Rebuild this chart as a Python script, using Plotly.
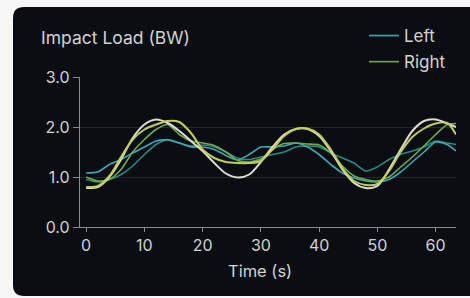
import plotly.graph_objects as go

# ---- data ----
time_s = [0, 2, 4, 6, 8, 10, 12, 14, 16, 18, 20, 22, 24, 26, 28, 30, 32, 34, 36, 38,
          40, 42, 44, 46, 48, 50, 52, 54, 56, 58, 60, 62, 63.5]

left_main = [1.08, 1.10, 1.25, 1.35, 1.48, 1.60, 1.72, 1.74, 1.68, 1.60, 1.60, 1.55, 1.43,
             1.34, 1.45, 1.60, 1.60, 1.62, 1.68, 1.60, 1.45, 1.25, 1.08, 0.98, 0.92, 0.90,
             0.95, 1.10, 1.30, 1.50, 1.70, 1.65, 1.52]

left_alt = [0.95, 0.90, 0.95, 1.05, 1.22, 1.45, 1.65, 1.75, 1.68, 1.62, 1.64, 1.60, 1.50,
            1.38, 1.35, 1.40, 1.45, 1.50, 1.60, 1.62, 1.60, 1.48, 1.38, 1.28, 1.12, 1.20,
            1.35, 1.45, 1.52, 1.60, 1.72, 1.68, 1.65]

right_main = [1.00, 0.92, 0.95, 1.15, 1.50, 1.75, 1.95, 2.05, 1.85, 1.72, 1.68, 1.63, 1.50,
              1.33, 1.30, 1.36, 1.55, 1.67, 1.68, 1.66, 1.64, 1.48, 1.22, 1.02, 0.95, 0.92,
              1.00, 1.20, 1.40, 1.62, 1.85, 2.05, 2.07]

right_smooth = [0.80, 0.82, 1.02, 1.40, 1.75, 1.95, 2.05, 2.12, 2.10, 1.88, 1.55, 1.38, 1.30,
                1.28, 1.28, 1.32, 1.55, 1.82, 1.96, 1.97, 1.85, 1.55, 1.18, 0.92, 0.84, 0.86,
                1.12, 1.50, 1.80, 1.97, 2.07, 2.08, 1.85]

model = [0.78, 0.80, 1.00, 1.35, 1.78, 2.05, 2.15, 2.08, 1.92, 1.72, 1.52, 1.28, 1.07,
         0.99, 1.05, 1.30, 1.60, 1.85, 1.96, 1.96, 1.82, 1.52, 1.15, 0.88, 0.78, 0.82,
         1.15, 1.55, 1.92, 2.12, 2.15, 2.07, 2.00]

y_ticks = [0, 1, 2, 3]
y_tick_labels = ["0.0", "1.0", "2.0", "3.0"]
x_ticks = [0, 10, 20, 30, 40, 50, 60]

# ---- styling ----
CARD = "#0a0e13"
OUTER = "#f6f6f6"
TXT = "#d2d2d2"
FONT = "Inter"

fig = go.Figure()

fig.add_trace(go.Scatter(x=time_s, y=left_alt, mode="lines", showlegend=False,
                         line=dict(color="#2a8a84", width=1.5, shape="spline", smoothing=0.6),
                         hoverinfo="skip"))
fig.add_trace(go.Scatter(x=time_s, y=left_main, mode="lines", name="Left", legendgroup="L",
                         line=dict(color="#45a5b4", width=1.6, shape="spline", smoothing=0.6)))
fig.add_trace(go.Scatter(x=time_s, y=right_main, mode="lines", name="Right", legendgroup="R",
                         line=dict(color="#72a84e", width=1.6, shape="spline", smoothing=0.6)))
fig.add_trace(go.Scatter(x=time_s, y=model, mode="lines", showlegend=False,
                         line=dict(color="#dedbd0", width=2.0, shape="spline", smoothing=0.8),
                         hoverinfo="skip"))
fig.add_trace(go.Scatter(x=time_s, y=right_smooth, mode="lines", showlegend=False,
                         line=dict(color="#c2cc5a", width=2.0, shape="spline", smoothing=0.8),
                         hoverinfo="skip"))

# rounded dark card in paper coordinates
L, R, T, B = 80, 456, 77, 227
W, H = R - L, B - T
def px(xp): return (xp - L) / W
def py(yp): return (B - yp) / H
x0, x1, y0, y1 = px(13), px(500), py(7), py(296)
rx, ry = 11 / W, 11 / H
path = (f"M {x0+rx},{y0} L {x1},{y0} L {x1},{y1} L {x0+rx},{y1} "
        f"Q {x0},{y1} {x0},{y1+ry} L {x0},{y0-ry} Q {x0},{y0} {x0+rx},{y0} Z")
fig.add_shape(type="path", path=path, xref="paper", yref="paper",
              fillcolor=CARD, line=dict(width=0), layer="below")

fig.add_annotation(text="Impact Load (BW)", xref="paper", yref="paper",
                   x=px(39), y=py(37), xanchor="left", yanchor="middle",
                   showarrow=False, font=dict(family=FONT, size=17.5, color=TXT))
fig.add_annotation(text="Time (s)", xref="paper", yref="paper",
                   x=px(260), y=py(271), xanchor="center", yanchor="middle",
                   showarrow=False, font=dict(family=FONT, size=16.5, color=TXT))

fig.update_layout(
    width=470, height=298,
    margin=dict(l=L, r=470 - R, t=T, b=298 - B, pad=0),
    paper_bgcolor=OUTER, plot_bgcolor="rgba(0,0,0,0)",
    font=dict(family=FONT, size=16, color=TXT),
    showlegend=True,
    legend=dict(x=px(364), y=py(18), xanchor="left", yanchor="top",
                bgcolor="rgba(0,0,0,0)", font=dict(family=FONT, size=17, color=TXT),
                tracegroupgap=1, itemwidth=30),
)

fig.update_xaxes(range=[-1.05, 63.5], tickvals=x_ticks, showgrid=False, zeroline=False,
                 showline=True, linecolor="#8a8a8a", linewidth=1.3,
                 ticks="outside", ticklen=4, tickcolor="#8a8a8a",
                 tickfont=dict(family=FONT, size=16, color=TXT))
fig.update_yaxes(range=[0, 3], tickvals=y_ticks, ticktext=y_tick_labels,
                 showgrid=True, gridcolor="rgba(255,255,255,0.11)", gridwidth=1,
                 zeroline=False, showline=True, linecolor="#8a8a8a", linewidth=1.3,
                 ticks="outside", ticklen=6, tickcolor="#8a8a8a",
                 tickfont=dict(family=FONT, size=16, color=TXT))

fig.write_html("out.html", config={"displayModeBar": False},
               post_script="document.body.style.margin='0';document.body.style.overflow='hidden';")
